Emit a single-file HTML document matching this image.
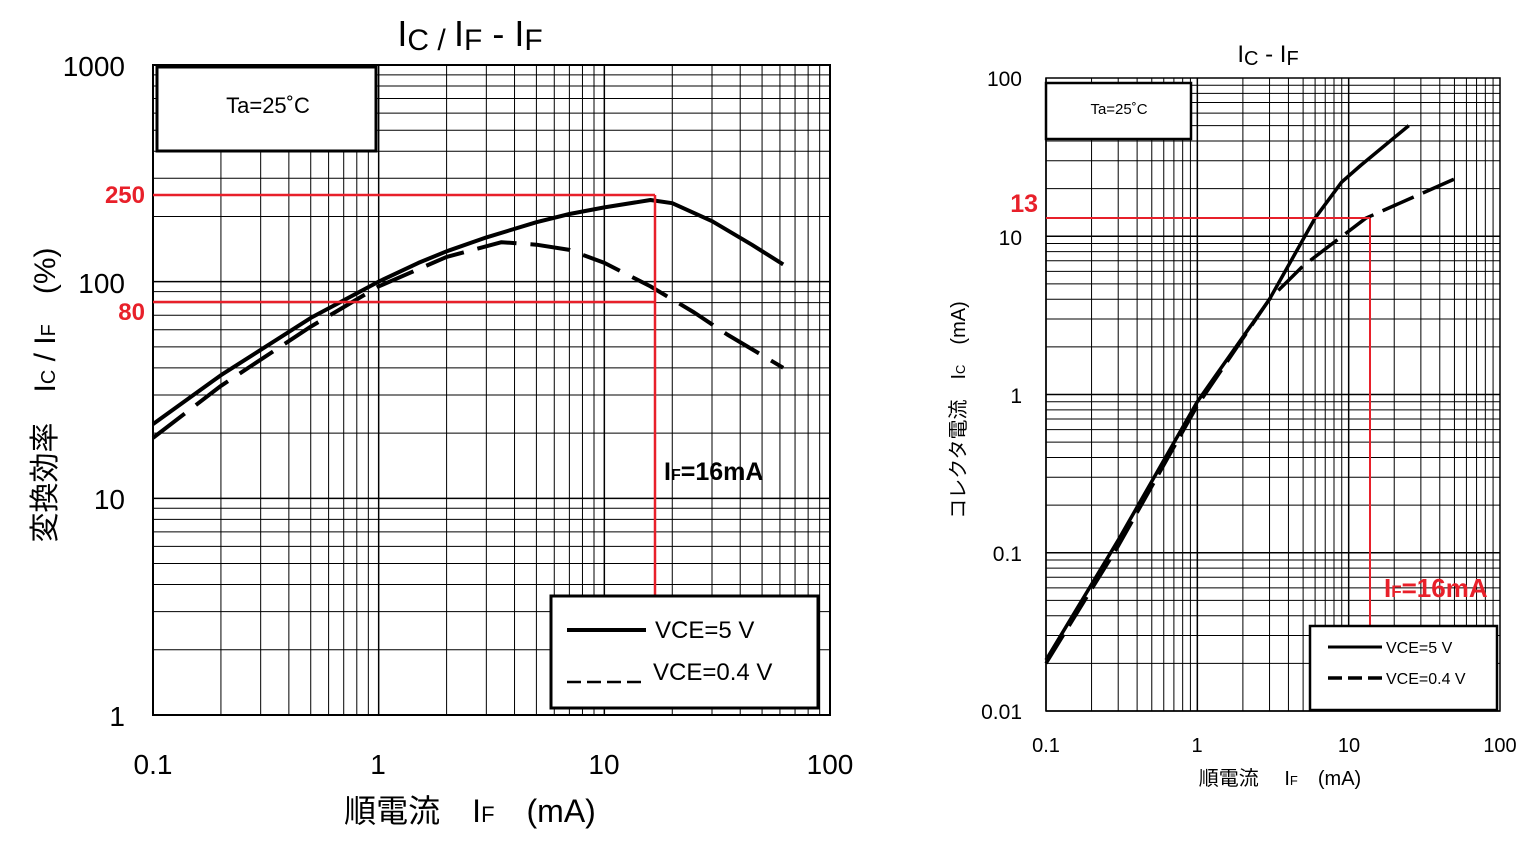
<!DOCTYPE html>
<html><head><meta charset="utf-8"><style>
body{margin:0;background:#fff;width:1536px;height:839px;overflow:hidden}
svg text{font-family:"Liberation Sans","Noto Sans CJK JP",sans-serif}
</style></head><body>
<svg id="s" width="1536" height="839" xmlns="http://www.w3.org/2000/svg"></svg>
<script>
const s=document.getElementById('s');let h='';
function grid(x0,x1,xd,y0,y1,yd,sw){
  const dx=(x1-x0)/xd, dy=(y0-y1)/yd;
  for(let d=0;d<xd;d++)for(let k=1;k<10;k++){const x=x0+dx*(d+Math.log10(k));h+=`<line x1="${x}" y1="${y1}" x2="${x}" y2="${y0}" stroke="#000" stroke-width="${k==1?1.5:1}"/>`;}
  for(let d=0;d<yd;d++)for(let k=1;k<10;k++){const y=y0-dy*(d+Math.log10(k));h+=`<line x1="${x0}" y1="${y}" x2="${x1}" y2="${y}" stroke="#000" stroke-width="${k==1?1.5:1}"/>`;}
  h+=`<rect x="${x0}" y="${y1}" width="${x1-x0}" height="${y0-y1}" fill="none" stroke="#000" stroke-width="${sw}"/>`;
}
function path(pts,fx,fy,w,dash){
  let d='';pts.forEach((p,i)=>{d+=(i?'L':'M')+fx(p[0]).toFixed(1)+' '+fy(p[1]).toFixed(1);});
  h+=`<path d="${d}" fill="none" stroke="#000" stroke-width="${w}" stroke-linejoin="round" ${dash?`stroke-dasharray="${dash}"`:''}/>`;
}
// LEFT
const LX=v=>153+225.7*(Math.log10(v)+1), LY=v=>715-216.7*Math.log10(v);
grid(153,830,3,715,65,3.0,2);
h+=`<rect x="157" y="67" width="219" height="84" fill="#fff" stroke="#000" stroke-width="3"/>`;
h+=`<text x="268" y="113" font-size="22" text-anchor="middle">Ta=25˚C</text>`;
path([[0.1,22],[0.2,37],[0.5,68],[1,100],[1.5,122],[2,138],[3,160],[5,188],[7,205],[10,220],[16,238],[20,230],[30,190],[45,148],[62,120]],LX,LY,4);
path([[0.1,19],[0.2,33],[0.5,62],[1,95],[2,130],[3.5,152],[5,148],[7,140],[10,122],[16,95],[25,72],[35,57],[62,40]],LX,LY,4,"40 14");
h+=`<line x1="153" y1="195" x2="655" y2="195" stroke="#e8202a" stroke-width="2.5"/>`;
h+=`<line x1="153" y1="302" x2="655" y2="302" stroke="#e8202a" stroke-width="2.5"/>`;
h+=`<line x1="655" y1="195" x2="655" y2="596" stroke="#e8202a" stroke-width="2.5"/>`;
h+=`<rect x="551" y="596" width="267" height="112" fill="#fff" stroke="#000" stroke-width="3"/>`;
h+=`<line x1="567" y1="630" x2="646" y2="630" stroke="#000" stroke-width="4"/>`;
h+=`<line x1="567" y1="682" x2="646" y2="682" stroke="#000" stroke-width="2.5" stroke-dasharray="14 6"/>`;
h+=`<text x="655" y="638" font-size="24">VCE=5  V</text><text x="653" y="680" font-size="24">VCE=0.4 V</text>`;
h+=`<text x="664" y="480" font-size="25" font-weight="bold">I<tspan font-size="16">F</tspan>=16mA</text>`;
[["1000",76],["100",293],["10",509],["1",726]].forEach(t=>h+=`<text x="125" y="${t[1]}" font-size="28" text-anchor="end">${t[0]}</text>`);
h+=`<text x="145" y="203" font-size="24" font-weight="bold" fill="#e8202a" text-anchor="end">250</text>`;
h+=`<text x="145" y="320" font-size="24" font-weight="bold" fill="#e8202a" text-anchor="end">80</text>`;
[["0.1",153],["1",378],["10",604],["100",830]].forEach(t=>h+=`<text x="${t[1]}" y="774" font-size="28" text-anchor="middle">${t[0]}</text>`);
h+=`<text x="470" y="822" font-size="32" text-anchor="middle">順電流　I<tspan font-size="22">F</tspan>　(mA)</text>`;
h+=`<text transform="translate(55,395) rotate(-90)" font-size="30" text-anchor="middle">変換効率　I<tspan font-size="20">C</tspan> / I<tspan font-size="20">F</tspan>　(%)</text>`;
h+=`<text x="470" y="46" font-size="36" text-anchor="middle">I<tspan font-size="30" dy="4">C / </tspan><tspan dy="-4">I</tspan><tspan font-size="30" dy="4">F</tspan><tspan dy="-4">  - I</tspan><tspan font-size="30" dy="4">F</tspan></text>`;
// RIGHT
const RX=v=>1046+151.3*(Math.log10(v)+1), RY=v=>711-158.25*(Math.log10(v)+2);
grid(1046,1500,3,711,78,4,1.5);
h+=`<rect x="1046" y="83" width="145" height="56" fill="#fff" stroke="#000" stroke-width="2.5"/>`;
h+=`<text x="1119" y="114" font-size="15" text-anchor="middle">Ta=25˚C</text>`;
path([[0.1,0.021],[0.3,0.12],[1,0.9],[3,4],[6,13],[9,22],[12,28],[25,50]],RX,RY,3.5);
path([[0.1,0.02],[0.3,0.11],[1,0.85],[3,4],[5,6.5],[13,13],[50,23]],RX,RY,3.5,"34 10");
h+=`<line x1="1046" y1="218" x2="1370" y2="218" stroke="#e8202a" stroke-width="2"/>`;
h+=`<line x1="1370" y1="218" x2="1370" y2="626" stroke="#e8202a" stroke-width="2"/>`;
h+=`<rect x="1310" y="626" width="187" height="84" fill="#fff" stroke="#000" stroke-width="2.5"/>`;
h+=`<line x1="1328" y1="647" x2="1382" y2="647" stroke="#000" stroke-width="3"/>`;
h+=`<line x1="1328" y1="678" x2="1382" y2="678" stroke="#000" stroke-width="3.5" stroke-dasharray="14 6"/>`;
h+=`<text x="1386" y="653" font-size="16">VCE=5  V</text><text x="1386" y="684" font-size="16">VCE=0.4 V</text>`;
h+=`<text x="1384" y="597" font-size="26" font-weight="bold" fill="#e8202a">I<tspan font-size="17">F</tspan>=16mA</text>`;
[["100",86],["10",245],["1",403],["0.1",561],["0.01",719]].forEach(t=>h+=`<text x="1022" y="${t[1]}" font-size="21" text-anchor="end">${t[0]}</text>`);
h+=`<text x="1038" y="212" font-size="25" font-weight="bold" fill="#e8202a" text-anchor="end">13</text>`;
[["0.1",1046],["1",1197],["10",1349],["100",1500]].forEach(t=>h+=`<text x="${t[1]}" y="752" font-size="20" text-anchor="middle">${t[0]}</text>`);
h+=`<text x="1280" y="785" font-size="20" text-anchor="middle">順電流　 I<tspan font-size="13">F</tspan>　(mA)</text>`;
h+=`<text transform="translate(965,410) rotate(-90)" font-size="20" text-anchor="middle">コレクタ電流　I<tspan font-size="13">C</tspan>　(mA)</text>`;
h+=`<text x="1268" y="62" font-size="24" text-anchor="middle">I<tspan font-size="20" dy="3">C</tspan><tspan dy="-3"> - I</tspan><tspan font-size="20" dy="3">F</tspan></text>`;
s.innerHTML=h;
</script>
</body></html>
